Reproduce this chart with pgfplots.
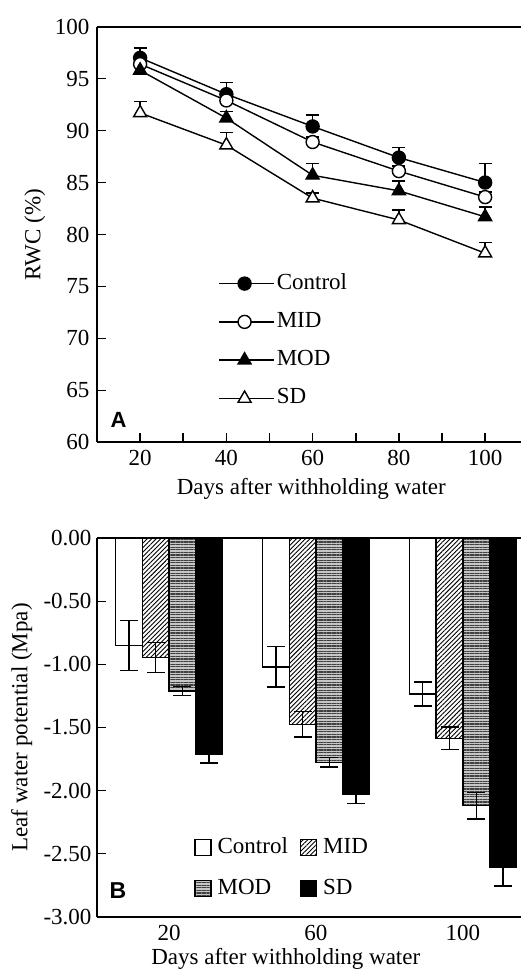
\documentclass[border=0pt]{standalone}
\usepackage{pgfplots}
\pgfplotsset{compat=1.18}
\usetikzlibrary{patterns.meta}
\usepackage{fontspec}
\setmainfont{Liberation Serif}
\setsansfont{Liberation Sans}
\newcommand{\bigf}{\fontsize{23}{27}\selectfont}
\begin{document}
\begin{tikzpicture}
\path[use as bounding box] (0pt,0pt) rectangle (521pt,971pt);
% ---------------- Panel A ----------------
\begin{axis}[
  at={(97pt,528.7pt)}, anchor=south west,
  scale only axis, width=431.25pt, height=415.6pt,
  xmin=10, xmax=110, ymin=60, ymax=100,
  axis x line*=box, axis y line*=left,
  xtick={20,40,60,80,100}, minor xtick={30,50,70,90},
  ytick={60,65,...,100},
  xtick pos=lower,
  tick align=inside,
  major tick length=9pt, minor tick length=9pt,
  every tick/.style={line width=1.6pt, black},
  every minor tick/.style={line width=1.6pt, black},
  axis line style={line width=1.8pt},
  /pgf/number format/assume math mode=true,
  tick label style={font=\bigf},
  xticklabel style={yshift=-4.5pt},
  yticklabel style={xshift=-4pt},
  xlabel={Days after withholding water},
  ylabel={RWC (\%)},
  every axis x label/.style={at={(axis description cs:0.497,-0.111)}, anchor=center, font=\bigf},
  every axis y label/.style={at={(axis description cs:-0.144,0.5)}, rotate=90, anchor=center, font=\bigf},
  legend style={draw=none, fill=none, inner sep=0pt, font=\bigf,
    at={(axis cs:38.1,76.4)}, anchor=north west, row sep=15.3pt,
    nodes={inner sep=2pt, text height=15pt, text depth=4pt}},
  legend cell align=left,
  legend image code/.code={\path (0pt,0pt) -- (55pt,0pt); \draw[mark repeat=2,mark phase=2,#1] plot coordinates {(0pt,0pt) (25.5pt,0pt) (51pt,0pt)};},
  error bars/error bar style={line width=1.4pt, black},
  error bars/error mark options={rotate=90, mark size=6.5pt, line width=1.4pt, black},
]
\addplot[black, line width=1.4pt, mark=*, mark size=6.5pt, mark options={fill=black, solid}, error bars/.cd, y dir=plus, y explicit]
  table[x=x, y=y, y error=e] {
x y e
20 97.0 0.95
40 93.5 1.1
60 90.4 1.1
80 87.4 0.95
100 85.0 1.85
};
\addlegendentry{Control}
\addplot[black, line width=1.4pt, mark=*, mark size=6.5pt, mark options={fill=white, solid}, error bars/.cd, y dir=plus, y explicit]
  table[x=x, y=y, y error=e] {
x y e
20 96.4 0.5
40 92.9 0.5
60 88.9 0.5
80 86.1 0.5
100 83.6 0.5
};
\addlegendentry{MID}
\addplot[black, line width=1.4pt, mark=triangle*, mark size=7.5pt, mark options={fill=black, solid}, error bars/.cd, y dir=plus, y explicit]
  table[x=x, y=y, y error=e] {
x y e
20 95.8 0.5
40 91.2 0.65
60 85.7 1.15
80 84.2 0.95
100 81.7 0.95
};
\addlegendentry{MOD}
\addplot[black, line width=1.4pt, mark=triangle*, mark size=7.5pt, mark options={fill=white, solid}, error bars/.cd, y dir=plus, y explicit]
  table[x=x, y=y, y error=e] {
x y e
20 91.7 1.1
40 88.6 1.2
60 83.5 0.5
80 81.4 0.95
100 78.2 1.05
};
\addlegendentry{SD}
\node[font=\sffamily\bfseries\fontsize{22}{26}\selectfont] at (rel axis cs:0.05,0.055) {A};
\end{axis}
% ---------------- Panel B ----------------
\begin{axis}[
  at={(97pt,54.3pt)}, anchor=south west,
  scale only axis, width=432pt, height=378.4pt,
  xmin=-0.49, xmax=2.45, ymin=-3, ymax=0,
  axis x line*=box, axis y line*=left,
  ybar=0pt, bar width=26.75pt,
  xtick={0,1,2}, xticklabels={20,60,100},
  xtick pos=lower, x tick style={draw=none},
  ytick={-3,-2.5,...,0},
  /pgf/number format/fixed, /pgf/number format/fixed zerofill, /pgf/number format/precision=2,
  tick align=inside,
  major tick length=9pt,
  every tick/.style={line width=1.6pt, black},
  axis line style={line width=1.8pt},
  /pgf/number format/assume math mode=true,
  tick label style={font=\bigf},
  xticklabel style={yshift=-5pt},
  yticklabel style={xshift=-2pt},
  xlabel={Days after withholding water},
  ylabel={Leaf water potential (Mpa)},
  every axis x label/.style={at={(axis description cs:0.437,-0.1262)}, anchor=base, font=\bigf},
  every axis y label/.style={at={(axis description cs:-0.174,0.5)}, rotate=90, anchor=center, font=\bigf},
  legend style={draw=none, fill=none, inner sep=0pt, font=\bigf,
    at={(axis cs:0.171,-2.36)}, anchor=north west, row sep=18pt, column sep=0pt,
    nodes={inner sep=2pt, text height=15pt, text depth=4pt},
    /tikz/every odd column/.append style={column sep=4pt},
    /tikz/every even column/.append style={column sep=10pt}},
  legend columns=2,
  legend cell align=left,
  legend image code/.code={\draw[#1] (0pt,-8pt) rectangle (16pt,8pt);},
  error bars/error bar style={line width=1.4pt, black},
  error bars/error mark options={rotate=90, mark size=9pt, line width=1.4pt, black},
]
\addplot[draw=black, line width=1.3pt, fill=white, error bars/.cd, y dir=both, y explicit]
  table[x=x, y=y, y error=e] {
x y e
0 -0.85 0.20
1 -1.02 0.16
2 -1.235 0.095
};
\addlegendentry{Control}
\addplot[draw=black, line width=1.3pt, fill=white, postaction={pattern={Lines[angle=45,distance=3.2pt,line width=0.9pt]}}, error bars/.cd, y dir=both, y explicit]
  table[x=x, y=y, y error=e] {
x y e
0 -0.945 0.12
1 -1.475 0.10
2 -1.585 0.09
};
\addlegendentry{MID}
\addplot[draw=black, line width=1.3pt, fill=gray!45, postaction={pattern={Lines[angle=0,distance=2.6pt,line width=1.1pt]}, pattern color=black!75}, error bars/.cd, y dir=both, y explicit]
  table[x=x, y=y, y error=e] {
x y e
0 -1.21 0.035
1 -1.775 0.037
2 -2.12 0.106
};
\addlegendentry{MOD}
\addplot[draw=black, line width=1.3pt, fill=black, error bars/.cd, y dir=both, y explicit]
  table[x=x, y=y, y error=e] {
x y e
0 -1.713 0.07
1 -2.027 0.075
2 -2.61 0.148
};
\addlegendentry{SD}
\draw[line width=1.6pt] (axis cs:0.5,0) -- ++(0pt,8.5pt);
\draw[line width=1.6pt] (axis cs:1.5,0) -- ++(0pt,8.5pt);
\node[font=\sffamily\bfseries\fontsize{23}{27}\selectfont] at (rel axis cs:0.0486,0.069) {B};
\end{axis}
\end{tikzpicture}
\end{document}
